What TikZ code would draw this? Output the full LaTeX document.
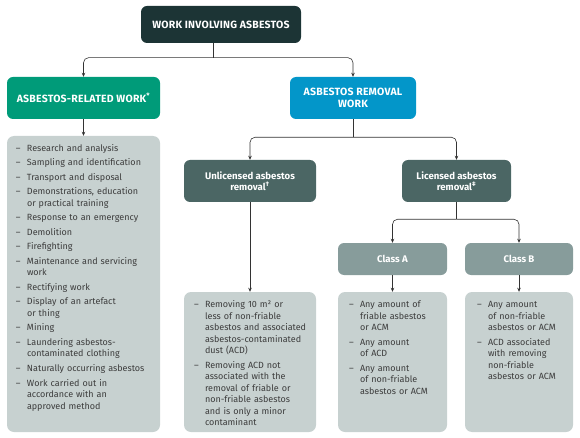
\documentclass[tikz,border=0pt]{standalone}
\usepackage{fontspec}
\setmainfont{Fira Sans}
\usetikzlibrary{arrows.meta}

\definecolor{topdark}{HTML}{1C3435}
\definecolor{relgreen}{HTML}{009B79}
\definecolor{remblue}{HTML}{0396C9}
\definecolor{slate}{HTML}{4B6664}
\definecolor{classgray}{HTML}{879C9B}
\definecolor{listgray}{HTML}{C7D1D0}
\definecolor{listtext}{HTML}{3C3C3C}
\definecolor{linecol}{HTML}{333333}

\newcommand{\entry}[1]{\par\noindent\hangindent=11pt\hangafter=1\makebox[11pt][l]{–}#1}

\tikzset{
  head/.style={rounded corners=6pt, text=white, inner sep=0pt, align=center,
    font=\bfseries\fontsize{10.5}{12}\selectfont\addfontfeature{LetterSpace=2}},
  subhead/.style={head, font=\bfseries\fontsize{9.6}{10.5}\selectfont},
  listbox/.style={fill=listgray, rounded corners=7pt, inner sep=0pt},
  listtext/.style={anchor=north west, inner sep=0pt, text width=#1, align=left,
    text=listtext, font=\fontsize{9}{11.5}\selectfont,
    execute at begin node=\setlength{\parskip}{3pt}},
  conn/.style={draw=linecol, line width=0.6pt},
  arr/.style={conn, rounded corners=5pt, -{Stealth[length=4pt,width=3.5pt]}},
}

\begin{document}
\begin{tikzpicture}[x=1pt,y=-1pt]
\useasboundingbox (0,0) rectangle (580,438);

% Headings
\node[head, fill=topdark, minimum width=160pt, minimum height=37pt] (top) at (221,24.5) {WORK INVOLVING ASBESTOS};
\node[head, fill=relgreen, minimum width=153pt, minimum height=42pt] (related) at (83.5,98) {ASBESTOS-RELATED WORK\textsuperscript{*}};
\node[head, fill=remblue, minimum width=126pt, minimum height=42pt] (removal) at (353,98) {ASBESTOS REMOVAL\\WORK};
\node[subhead, fill=slate, minimum width=132pt, minimum height=42pt] (unlicensed) at (250,181) {Unlicensed asbestos\\removal\textsuperscript{†}};
\node[subhead, fill=slate, minimum width=109pt, minimum height=42pt] (licensed) at (456.5,181) {Licensed asbestos\\removal\textsuperscript{‡}};
\node[subhead, fill=classgray, minimum width=109pt, minimum height=32pt] (classA) at (392.5,259) {Class A};
\node[subhead, fill=classgray, minimum width=108pt, minimum height=32pt] (classB) at (519,259) {Class B};

% List boxes
\node[listbox, minimum width=153pt, minimum height=296pt] (relatedlist) at (83.5,284) {};
\node[listbox, minimum width=132pt, minimum height=140pt] (unlicensedlist) at (250,362) {};
\node[listbox, minimum width=109pt, minimum height=140pt] (classAlist) at (392.5,362) {};
\node[listbox, minimum width=108pt, minimum height=140pt] (classBlist) at (519,362) {};

\node[listtext=142pt] (relateditems) at ([shift={(9,1)}]relatedlist.north west) {%
  \entry{Research and analysis}
  \entry{Sampling and identification}
  \entry{Transport and disposal}
  \entry{Demonstrations, education\newline or practical training}
  \entry{Response to an emergency}
  \entry{Demolition}
  \entry{Firefighting}
  \entry{Maintenance and servicing\newline work}
  \entry{Rectifying work}
  \entry{Display of an artefact\newline or thing}
  \entry{Mining}
  \entry{Laundering asbestos-\newline contaminated clothing}
  \entry{Naturally occurring asbestos}
  \entry{Work carried out in\newline accordance with an\newline approved method}\par};
\node[listtext=121pt] (unlicenseditems) at ([shift={(10,1)}]unlicensedlist.north west) {%
  \entry{Removing 10 m² or\newline less of non-friable\newline asbestos and associated\newline asbestos-contaminated\newline dust (ACD)}
  \entry{Removing ACD not\newline associated with the\newline removal of friable or\newline non-friable asbestos\newline and is only a minor\newline contaminant}\par};
\node[listtext=98pt] (classAitems) at ([shift={(11,1)}]classAlist.north west) {%
  \entry{Any amount of\newline friable asbestos\newline or ACM}
  \entry{Any amount\newline of ACD}
  \entry{Any amount\newline of non-friable\newline asbestos or ACM}\par};
\node[listtext=97pt] (classBitems) at ([shift={(12,1)}]classBlist.north west) {%
  \entry{Any amount\newline of non-friable\newline asbestos or ACM}
  \entry{ACD associated\newline with removing\newline non-friable\newline asbestos or ACM}\par};

% Connectors
\coordinate (j1) at ([xshift=-8pt]top.south |- 0,57.7);
\draw[conn] ([xshift=-8pt]top.south) -- (j1);
\draw[arr] (j1) -| (related.north);
\draw[arr] (j1) -| (removal.north);
\draw[arr] (related.south) -- (relatedlist.north);

\coordinate (j2) at (removal.south |- 0,137.3);
\draw[conn] (removal.south) -- (j2);
\draw[arr] (j2) -| (unlicensed.north);
\draw[arr] (j2) -| (licensed.north);
\draw[arr] (unlicensed.south) -- (unlicensedlist.north);

\coordinate (j3) at (licensed.south |- 0,219.3);
\draw[conn] (licensed.south) -- (j3);
\draw[arr] (j3) -| (classA.north);
\draw[arr] (j3) -| (classB.north);
\draw[arr] (classA.south) -- (classAlist.north);
\draw[arr] (classB.south) -- (classBlist.north);
\end{tikzpicture}
\end{document}
